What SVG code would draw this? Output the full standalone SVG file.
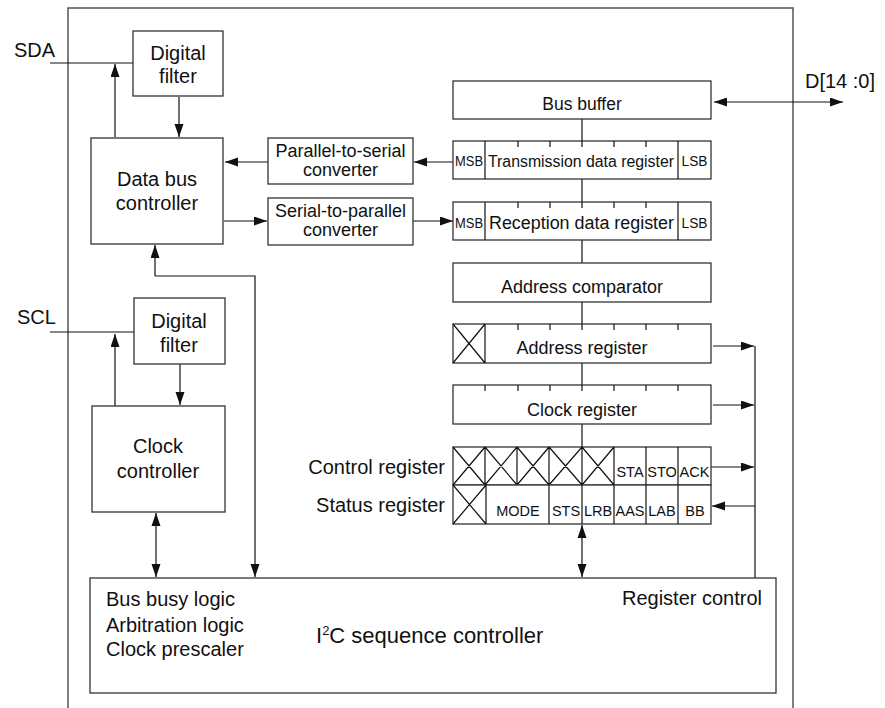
<svg xmlns="http://www.w3.org/2000/svg" width="885" height="708" viewBox="0 0 885 708">
<style>
text{font-family:"Liberation Sans",Arial,sans-serif;fill:#111}
.b{fill:#fff;stroke:#333;stroke-width:1.3}
.l{fill:none;stroke:#111;stroke-width:1.2}
.c{text-anchor:middle}
.t20{font-size:20px}
.t18{font-size:18px}
.t14{font-size:14.5px}
.a{marker-end:url(#ah)}
.a2{marker-start:url(#as);marker-end:url(#ah)}
</style>
<defs>
<marker id="ah" markerUnits="userSpaceOnUse" markerWidth="14" markerHeight="10" refX="13" refY="4.5" orient="auto"><path d="M0,0 L13,4.5 L0,9 z" fill="#111"/></marker>
<marker id="as" markerUnits="userSpaceOnUse" markerWidth="14" markerHeight="10" refX="0" refY="4.5" orient="auto"><path d="M13,0 L0,4.5 L13,9 z" fill="#111"/></marker>
</defs>
<rect width="885" height="708" fill="#fff"/>
<path d="M68,708 V8 H793 V708" fill="none" stroke="#555" stroke-width="1.5"/>
<text x="14" y="57" class="t20">SDA</text>
<text x="17" y="324" class="t20">SCL</text>
<text x="805" y="88" class="t20">D[14 :0]</text>
<g id="connectors">
<line x1="50" y1="63" x2="133" y2="63" class="l"/>
<line x1="115" y1="137" x2="115" y2="64" class="l a"/>
<line x1="179" y1="97" x2="179" y2="137" class="l a"/>
<line x1="268" y1="162" x2="225" y2="162" class="l a"/>
<line x1="453" y1="162" x2="414" y2="162" class="l a"/>
<line x1="224" y1="221" x2="267" y2="221" class="l a"/>
<line x1="413" y1="221" x2="453" y2="221" class="l a"/>
<line x1="714" y1="102" x2="843" y2="102" class="l a2"/>
<path d="M582,119 V141 M582,179 V202 M582,240 V263 M582,302 V324 M582,363 V385 M582,424 V447" class="l"/>
<line x1="713" y1="346" x2="754" y2="346" class="l a"/>
<line x1="713" y1="405" x2="754" y2="405" class="l a"/>
<line x1="711" y1="467" x2="754" y2="467" class="l a"/>
<line x1="755" y1="506" x2="712" y2="506" class="l a"/>
<line x1="755" y1="346" x2="755" y2="578" class="l"/>
<line x1="582" y1="525" x2="582" y2="577" class="l a2"/>
<line x1="50" y1="332" x2="134" y2="332" class="l"/>
<line x1="115" y1="406" x2="115" y2="334" class="l a"/>
<line x1="180" y1="364" x2="180" y2="405" class="l a"/>
<line x1="156" y1="513" x2="156" y2="577" class="l a2"/>
<path d="M155,276 H255 V577" class="l a"/>
<line x1="155" y1="276" x2="155" y2="245" class="l a"/>
</g>
<g id="sda-filter"><rect x="133" y="31" width="90" height="65" class="b"/><text x="178" y="60" class="c t20">Digital</text><text x="178" y="83" class="c t20">filter</text></g>
<g id="data-bus-controller"><rect x="91" y="138" width="132" height="106" class="b"/><text x="157" y="186" class="c t20">Data bus</text><text x="157" y="210" class="c t20">controller</text></g>
<g id="p2s"><rect x="268" y="138" width="145" height="46" class="b"/><text x="340.5" y="157" class="c t18">Parallel-to-serial</text><text x="340.5" y="176" class="c t18">converter</text></g>
<g id="s2p"><rect x="268" y="198" width="145" height="47" class="b"/><text x="340.5" y="217" class="c t18">Serial-to-parallel</text><text x="340.5" y="236" class="c t18">converter</text></g>
<g id="scl-filter"><rect x="134" y="298" width="91" height="66" class="b"/><text x="179" y="328" class="c t20">Digital</text><text x="179" y="352" class="c t20">filter</text></g>
<g id="clock-controller"><rect x="92" y="406" width="133" height="106" class="b"/><text x="158" y="453" class="c t20">Clock</text><text x="158" y="478" class="c t20">controller</text></g>
<g id="bus-buffer"><rect x="453" y="81" width="258" height="38" class="b"/><text x="582" y="110" class="c" style="font-size:17.5px">Bus buffer</text></g>
<g id="tx-register"><rect x="453" y="141" width="258" height="38" class="b"/><path d="M485,141 V179 M678,141 V179 M518,141 v6 M550,141 v6 M582,141 v6 M614,141 v6 M646,141 v6" class="l"/><text x="469" y="166" class="c t14" textLength="28" lengthAdjust="spacingAndGlyphs">MSB</text><text x="694.5" y="166" class="c" style="font-size:14px" textLength="26" lengthAdjust="spacingAndGlyphs">LSB</text><text x="488" y="167" style="font-size:16px" textLength="186" lengthAdjust="spacingAndGlyphs">Transmission data register</text></g>
<g id="rx-register"><rect x="453" y="202" width="258" height="38" class="b"/><path d="M485,202 V240 M678,202 V240 M518,202 v6 M550,202 v6 M582,202 v6 M614,202 v6 M646,202 v6" class="l"/><text x="469" y="228" class="c t14" textLength="28" lengthAdjust="spacingAndGlyphs">MSB</text><text x="694.5" y="228" class="c" style="font-size:14px" textLength="26" lengthAdjust="spacingAndGlyphs">LSB</text><text x="489" y="229" style="font-size:18px" textLength="185" lengthAdjust="spacingAndGlyphs">Reception data register</text></g>
<g id="address-comparator"><rect x="453" y="263" width="258" height="39" class="b"/><text x="582" y="293" class="c t18">Address comparator</text></g>
<g id="address-register"><rect x="453" y="324" width="258" height="39" class="b"/><path d="M485,324 V363 M453,324 L485,363 M485,324 L453,363 M518,324 v6 M550,324 v6 M582,324 v6 M614,324 v6 M646,324 v6 M678,324 v6" class="l"/><text x="582" y="354" class="c t18">Address register</text></g>
<g id="clock-register"><rect x="453" y="385" width="258" height="39" class="b"/><path d="M485,385 v6 M518,385 v6 M550,385 v6 M582,385 v6 M614,385 v6 M646,385 v6 M678,385 v6" class="l"/><text x="582" y="416" class="c t18">Clock register</text></g>
<g id="control-register"><rect x="453" y="447" width="258" height="38" class="b"/><path d="M485,447 V485 M517,447 V485 M549,447 V485 M582,447 V485 M614,447 V485 M646,447 V485 M678,447 V485 M453,447 L485,485 M485,447 L453,485 M485,447 L517,485 M517,447 L485,485 M517,447 L549,485 M549,447 L517,485 M549,447 L582,485 M582,447 L549,485 M582,447 L614,485 M614,447 L582,485" class="l"/><text x="630" y="477" class="c t14">STA</text><text x="662" y="477" class="c t14">STO</text><text x="694.5" y="477" class="c t14">ACK</text><text x="445" y="474" text-anchor="end" class="t20">Control register</text></g>
<g id="status-register"><rect x="453" y="485" width="258" height="39" class="b"/><path d="M486,485 V524 M549,485 V524 M582,485 V524 M614,485 V524 M646,485 V524 M678,485 V524 M453,485 L486,524 M486,485 L453,524" class="l"/><text x="518" y="516" class="c t14">MODE</text><text x="566" y="516" class="c t14">STS</text><text x="598" y="516" class="c t14">LRB</text><text x="630" y="516" class="c t14">AAS</text><text x="662" y="516" class="c t14">LAB</text><text x="695" y="516" class="c t14">BB</text><text x="445" y="512" text-anchor="end" class="t20">Status register</text></g>
<g id="i2c-sequence-controller"><rect x="90" y="578" width="686" height="115" class="b"/><text x="106" y="606" class="t20">Bus busy logic</text><text x="106" y="632" class="t20">Arbitration logic</text><text x="106" y="656" class="t20">Clock prescaler</text><text x="762" y="605" text-anchor="end" class="t20">Register control</text><text x="316" y="643" style="font-size:22px">I<tspan style="font-size:13px" dy="-8">2</tspan><tspan dy="8">C sequence controller</tspan></text></g>
</svg>
